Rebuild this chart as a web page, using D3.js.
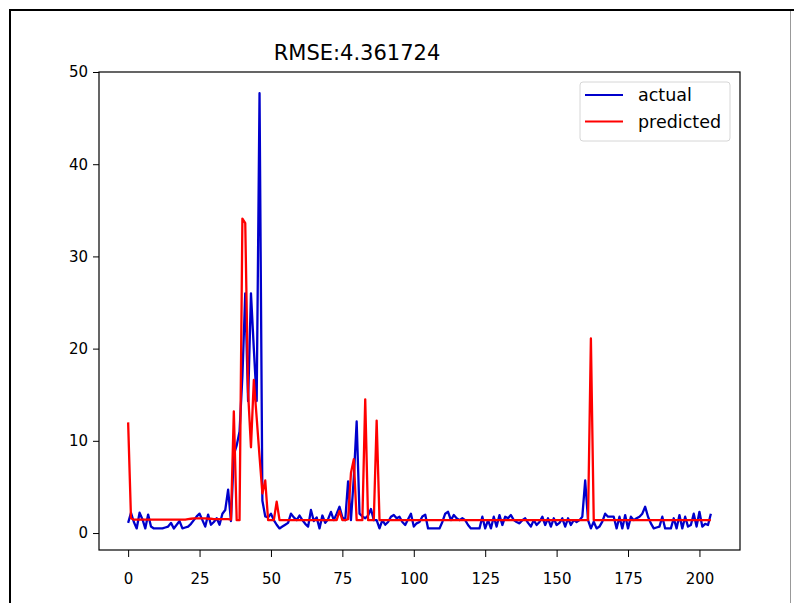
<!DOCTYPE html>
<html>
<head>
<meta charset="utf-8">
<script src="https://cdn.jsdelivr.net/npm/d3@7"></script>
<style>
  body { margin: 0; background: #fff; }
  svg { display: block; font-family: "DejaVu Sans", sans-serif; }
</style>
</head>
<body>
<script>
'use strict'

// chart text
const titleText = 'RMSE:4.361724'
const seriesNames = ['actual', 'predicted']
const xTicks = [0, 25, 50, 75, 100, 125, 150, 175, 200]
const yTicks = [0, 10, 20, 30, 40, 50]

// actual values, one per step (0..204)
const actual = [
  1.1, 2.2, 1.2, 0.5, 2.2, 1.5, 0.5, 2.0, 0.7, 0.5,
  0.5, 0.5, 0.5, 0.6, 0.7, 1.1, 0.5, 0.9, 1.3, 0.5,
  0.6, 0.7, 1.0, 1.4, 1.8, 2.1, 1.4, 0.7, 2.0, 0.9,
  1.2, 1.6, 0.9, 2.1, 2.5, 4.7, 1.3, 8.5, 9.5, 11.0,
  17.0, 26.0, 14.3, 26.0, 20.0, 14.3, 47.7, 3.5, 1.8, 1.7,
  2.1, 1.4, 0.9, 0.5, 0.7, 0.9, 1.1, 2.1, 1.7, 1.4,
  1.9, 1.4, 1.0, 0.7, 2.5, 1.3, 1.7, 0.5, 1.9, 1.1,
  1.5, 2.3, 1.4, 2.1, 2.85, 1.7, 1.4, 5.6, 1.4, 6.0,
  12.1, 2.1, 1.8, 1.6, 1.9, 2.6, 1.4, 1.4, 0.5, 1.4,
  0.9, 1.2, 1.77, 1.95, 1.6, 1.77, 1.2, 0.87, 1.5, 2.1,
  0.7, 1.05, 1.2, 1.8, 2.0, 0.5, 0.5, 0.5, 0.5, 0.5,
  1.2, 2.1, 2.3, 1.4, 1.95, 1.6, 1.4, 1.6, 1.4, 0.87,
  0.5, 0.5, 0.5, 0.5, 1.77, 0.5, 1.4, 0.5, 1.77, 0.7,
  1.95, 0.87, 1.77, 1.6, 1.95, 1.4, 1.2, 1.05, 1.4, 1.6,
  1.1, 0.7, 1.4, 0.87, 1.2, 1.77, 0.87, 1.6, 0.7, 1.6,
  0.87, 1.1, 1.6, 0.7, 1.6, 0.87, 1.4, 1.2, 1.4, 1.77,
  5.7, 1.4, 0.5, 1.23, 0.5, 0.7, 1.23, 2.1, 1.77, 1.77,
  1.77, 0.5, 1.77, 0.5, 1.95, 0.5, 1.77, 1.4, 1.6, 1.77,
  2.1, 2.85, 1.77, 1.05, 0.5, 0.6, 0.7, 1.77, 0.5, 0.5,
  0.5, 1.6, 0.5, 1.95, 0.5, 1.77, 0.7, 0.87, 2.1, 0.7,
  2.3, 0.7, 1.0, 0.87, 2.1
]

// predicted values, same steps
const predicted = [
  12.0, 1.6, 1.45, 1.45, 1.45, 1.45, 1.45, 1.45, 1.45, 1.45,
  1.45, 1.45, 1.45, 1.45, 1.45, 1.45, 1.45, 1.45, 1.45, 1.45,
  1.45, 1.5, 1.55, 1.6, 1.6, 1.6, 1.6, 1.6, 1.55, 1.55,
  1.5, 1.5, 1.5, 1.5, 1.5, 1.5, 1.45, 13.2, 1.4, 1.4,
  34.1, 33.6, 15.2, 9.3, 16.6, 12.5, 8.3, 4.3, 5.7, 1.4,
  1.4, 1.4, 3.4, 1.4, 1.4, 1.4, 1.4, 1.4, 1.4, 1.4,
  1.4, 1.4, 1.4, 1.4, 1.4, 1.4, 1.4, 1.4, 1.4, 1.4,
  1.4, 1.4, 1.4, 1.4, 2.4, 1.4, 1.4, 1.5, 6.5, 8.0,
  1.4, 1.4, 1.4, 14.5, 1.4, 1.4, 1.4, 12.2, 1.4, 1.4,
  1.4, 1.4, 1.4, 1.4, 1.4, 1.4, 1.4, 1.4, 1.4, 1.4,
  1.4, 1.4, 1.4, 1.4, 1.4, 1.4, 1.4, 1.4, 1.4, 1.4,
  1.4, 1.4, 1.4, 1.4, 1.4, 1.4, 1.4, 1.4, 1.4, 1.4,
  1.4, 1.4, 1.4, 1.4, 1.4, 1.4, 1.4, 1.4, 1.4, 1.4,
  1.4, 1.4, 1.4, 1.4, 1.4, 1.4, 1.4, 1.4, 1.4, 1.4,
  1.4, 1.4, 1.4, 1.4, 1.4, 1.4, 1.4, 1.4, 1.4, 1.4,
  1.4, 1.4, 1.4, 1.4, 1.4, 1.4, 1.4, 1.4, 1.4, 1.4,
  1.4, 1.4, 21.1, 1.4, 1.4, 1.4, 1.4, 1.4, 1.4, 1.4,
  1.4, 1.4, 1.4, 1.4, 1.4, 1.4, 1.4, 1.4, 1.4, 1.4,
  1.4, 1.4, 1.4, 1.4, 1.4, 1.4, 1.4, 1.4, 1.4, 1.4,
  1.4, 1.4, 1.4, 1.4, 1.4, 1.4, 1.4, 1.4, 1.4, 1.4,
  1.4, 1.4, 1.4, 1.4, 1.4
]

const colors = ['#0000cc', '#ff0000']

const W = 794, H = 603
// plot box, in pixels
const box = { left: 99, right: 740, top: 72, bottom: 550 }

const svg = d3.select('body').append('svg')
  .attr('width', W)
  .attr('height', H)

// outer frame of the picture (top and left dark, right side faint)
svg.append('line').attr('x1', 9).attr('x2', W).attr('y1', 10).attr('y2', 10)
  .attr('stroke', '#000').attr('stroke-width', 2)
svg.append('line').attr('x1', 10).attr('x2', 10).attr('y1', 9).attr('y2', H)
  .attr('stroke', '#000').attr('stroke-width', 2)
svg.append('line').attr('x1', 790.5).attr('x2', 790.5).attr('y1', 11).attr('y2', H)
  .attr('stroke', '#999').attr('stroke-width', 1)

const x = d3.scaleLinear().domain([-10.2, 214.2]).range([box.left, box.right])
const y = d3.scaleLinear().domain([-1.84, 50.0]).range([box.bottom, box.top])

// axes
const xAxis = svg.append('g')
  .attr('transform', `translate(0,${box.bottom})`)
  .call(d3.axisBottom(x).tickValues(xTicks).tickSize(7).tickPadding(16).tickSizeOuter(0))
const yAxis = svg.append('g')
  .attr('transform', `translate(${box.left},0)`)
  .call(d3.axisLeft(y).tickValues(yTicks).tickSize(6).tickPadding(5).tickSizeOuter(0))

;[xAxis, yAxis].forEach(g => {
  g.select('.domain').remove()
  g.selectAll('text').attr('font-size', 15).attr('fill', '#000').attr('font-family', 'DejaVu Sans')
  g.selectAll('line').attr('stroke', '#000')
})

// lines
const idx = d3.range(actual.length)
const line = vals => d3.line()
  .x(i => x(i))
  .y(i => y(vals[i]))(idx)

;[actual, predicted].forEach((vals, k) => {
  svg.append('path')
    .attr('d', line(vals))
    .attr('fill', 'none')
    .attr('stroke', colors[k])
    .attr('stroke-width', 2.3)
    .attr('stroke-linejoin', 'round')
})

// spines drawn on top
svg.append('rect')
  .attr('x', box.left).attr('y', box.top)
  .attr('width', box.right - box.left).attr('height', box.bottom - box.top)
  .attr('fill', 'none')
  .attr('stroke', '#000')
  .attr('stroke-width', 1.2)

// title
svg.append('text')
  .attr('x', 357).attr('y', 60)
  .attr('text-anchor', 'middle')
  .attr('font-size', 21)
  .text(titleText)

// legend
const leg = svg.append('g').attr('transform', 'translate(580,82)')
leg.append('rect')
  .attr('width', 150).attr('height', 59)
  .attr('rx', 3)
  .attr('fill', '#fff')
  .attr('stroke', '#d6d6d6')
seriesNames.forEach((name, k) => {
  const yy = 13 + k * 26.5
  leg.append('line')
    .attr('x1', 5).attr('x2', 43)
    .attr('y1', yy).attr('y2', yy)
    .attr('stroke', colors[k])
    .attr('stroke-width', 2)
  leg.append('text')
    .attr('x', 58).attr('y', yy + 6)
    .attr('font-size', 17.5)
    .text(name)
})
</script>
</body>
</html>
